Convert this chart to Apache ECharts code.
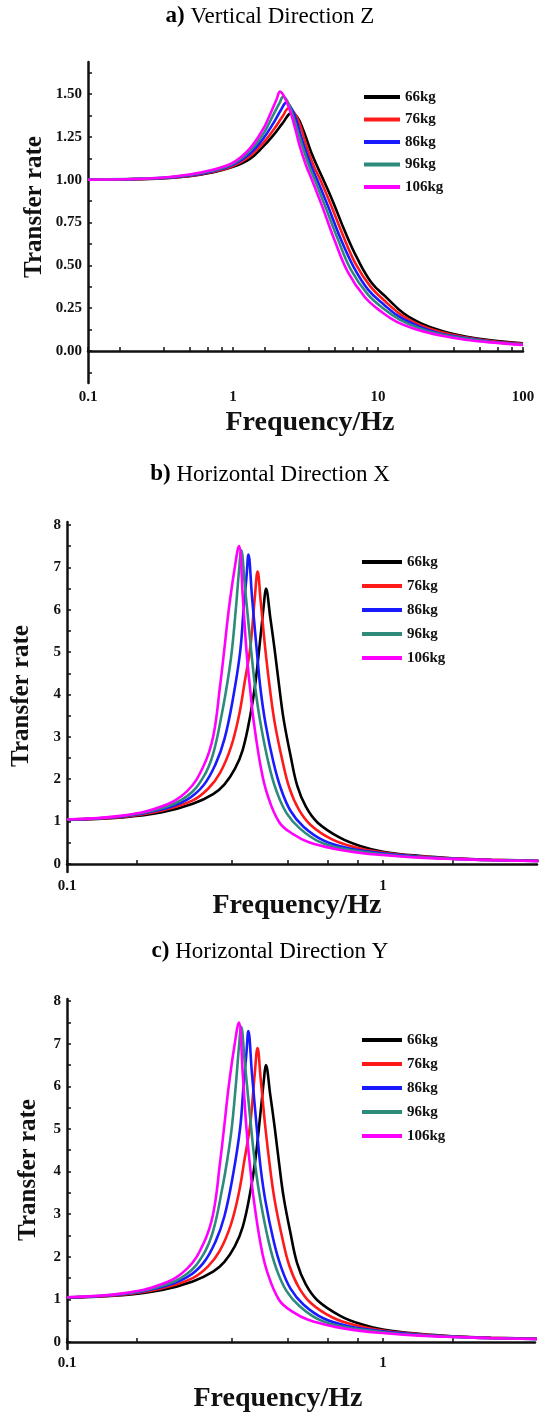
<!DOCTYPE html>
<html>
<head>
<meta charset="utf-8">
<title>Transfer rate vs frequency</title>
<script src="https://cdn.jsdelivr.net/npm/echarts@6/dist/echarts.min.js"></script>
<style>
  html, body { margin: 0; padding: 0; background: #fff; }
  #chart { width: 540px; height: 1414px; }
</style>
</head>
<body>
<div id="chart"></div>
<script>
// Series names (rider mass)
const massNames = ["66kg", "76kg", "86kg", "96kg", "106kg"];

// a) Vertical direction Z — [frequency Hz, transfer rate]
const vz66 = [[0.1,1.0],[0.3,1.006],[0.5,1.02],[0.7,1.04],[1,1.075],[1.3,1.12],[1.6,1.19],[1.9,1.26],[2.2,1.33],[2.54,1.39],[2.8,1.36],[3.05,1.29],[3.3,1.21],[3.5,1.15],[3.8,1.08],[4.2,1.0],[4.9,0.87],[5.9,0.7],[7.2,0.54],[9,0.4],[11.5,0.31],[15,0.22],[20,0.16],[28,0.115],[40,0.085],[60,0.062],[100,0.045]];
const vz76 = [[0.1,1.0],[0.3,1.007],[0.5,1.022],[0.7,1.043],[1,1.08],[1.3,1.135],[1.6,1.21],[1.9,1.29],[2.2,1.37],[2.42,1.417],[2.65,1.39],[2.9,1.32],[3.1,1.24],[3.35,1.15],[3.65,1.07],[4.0,1.0],[4.7,0.86],[5.7,0.68],[7,0.51],[8.8,0.38],[11.2,0.29],[14.5,0.21],[19,0.155],[27,0.11],[40,0.08],[60,0.058],[100,0.042]];
const vz86 = [[0.1,1.0],[0.3,1.008],[0.5,1.025],[0.7,1.047],[1,1.087],[1.3,1.15],[1.6,1.235],[1.9,1.33],[2.15,1.41],[2.33,1.45],[2.55,1.41],[2.75,1.34],[2.95,1.25],[3.2,1.16],[3.5,1.07],[3.85,0.99],[4.5,0.85],[5.5,0.66],[6.8,0.49],[8.6,0.355],[11,0.27],[14,0.2],[19,0.145],[26,0.105],[40,0.076],[60,0.054],[100,0.039]];
const vz96 = [[0.1,1.0],[0.3,1.009],[0.5,1.027],[0.7,1.05],[1,1.093],[1.3,1.165],[1.6,1.26],[1.9,1.38],[2.1,1.45],[2.22,1.485],[2.4,1.45],[2.6,1.37],[2.8,1.28],[3.05,1.18],[3.35,1.08],[3.7,0.99],[4.3,0.85],[5.3,0.65],[6.5,0.475],[8.5,0.33],[11,0.245],[14,0.185],[19,0.135],[26,0.1],[40,0.072],[60,0.052],[100,0.037]];
const vz106 = [[0.1,1.0],[0.3,1.01],[0.5,1.03],[0.7,1.055],[1,1.1],[1.3,1.18],[1.6,1.29],[1.8,1.38],[2.0,1.47],[2.11,1.514],[2.3,1.47],[2.5,1.39],[2.7,1.29],[2.9,1.19],[3.2,1.08],[3.5,1.0],[4.1,0.85],[5.05,0.64],[6.2,0.46],[8.1,0.315],[10.5,0.23],[13.5,0.17],[19,0.122],[27,0.09],[40,0.066],[60,0.05],[100,0.035]];

// b) / c) Horizontal directions X and Y (both panels read the same)
const hz66 = [[0.1,1.04],[0.15,1.1],[0.2,1.22],[0.25,1.42],[0.29,1.65],[0.315,1.88],[0.34,2.25],[0.36,2.7],[0.38,3.5],[0.395,4.3],[0.41,5.4],[0.42,6.15],[0.426,6.5],[0.44,5.8],[0.455,5.0],[0.47,4.15],[0.485,3.4],[0.51,2.55],[0.535,1.85],[0.57,1.35],[0.62,0.98],[0.73,0.62],[0.85,0.42],[1.0,0.29],[1.3,0.19],[1.7,0.13],[2.2,0.1],[3.1,0.075]];
const hz76 = [[0.1,1.045],[0.15,1.11],[0.2,1.26],[0.25,1.5],[0.28,1.78],[0.305,2.15],[0.33,2.75],[0.35,3.5],[0.365,4.3],[0.38,5.1],[0.393,6.3],[0.401,6.9],[0.41,6.2],[0.425,5.0],[0.44,4.05],[0.455,3.3],[0.48,2.45],[0.505,1.8],[0.54,1.3],[0.59,0.92],[0.69,0.58],[0.82,0.39],[1.0,0.27],[1.3,0.18],[1.7,0.125],[2.2,0.095],[3.1,0.072]];
const hz86 = [[0.1,1.045],[0.15,1.12],[0.2,1.29],[0.24,1.52],[0.27,1.85],[0.295,2.35],[0.315,2.95],[0.335,3.9],[0.353,5.0],[0.362,6.0],[0.37,6.8],[0.375,7.3],[0.385,6.3],[0.399,5.0],[0.41,4.1],[0.425,3.3],[0.45,2.4],[0.475,1.78],[0.51,1.25],[0.56,0.88],[0.65,0.55],[0.78,0.37],[1.0,0.25],[1.3,0.17],[1.7,0.12],[2.2,0.092],[3.1,0.07]];
const hz96 = [[0.1,1.05],[0.15,1.13],[0.2,1.32],[0.24,1.6],[0.27,2.05],[0.29,2.6],[0.31,3.6],[0.322,4.3],[0.332,5.0],[0.342,6.0],[0.35,6.9],[0.356,7.4],[0.365,6.6],[0.383,5.0],[0.395,4.1],[0.41,3.3],[0.435,2.35],[0.46,1.72],[0.495,1.2],[0.545,0.84],[0.63,0.52],[0.76,0.35],[1.0,0.23],[1.3,0.16],[1.7,0.117],[2.2,0.09],[3.1,0.07]];
const hz106 = [[0.1,1.05],[0.15,1.14],[0.2,1.36],[0.24,1.72],[0.27,2.3],[0.29,3.0],[0.305,4.2],[0.315,5.1],[0.325,6.0],[0.338,6.9],[0.35,7.5],[0.36,6.3],[0.37,5.0],[0.38,4.1],[0.39,3.35],[0.41,2.3],[0.43,1.65],[0.47,0.98],[0.52,0.7],[0.58,0.52],[0.7,0.36],[0.85,0.26],[1.0,0.21],[1.3,0.15],[1.7,0.115],[2.2,0.09],[3.1,0.07]];

// Axis tick labels and tick marks
const freqLabelsZ = [0.1, 1, 10, 100];
const freqLabelsH = [0.1, 1];
const freqTicksZ = [0.1, 0.1667, 0.3333, 0.5, 0.6667, 0.8333, 1, 1.667, 3.333, 5, 6.667, 8.333, 10, 16.67, 33.33, 50, 66.67, 83.33, 100];
const freqTicksH = [0.1, 0.1667, 0.3333, 0.5, 0.6667, 0.8333, 1, 1.667];
const rateLabelsZ = [0, 0.25, 0.5, 0.75, 1, 1.25, 1.5];
const rateTicksZ = [-0.125, 0, 0.125, 0.25, 0.375, 0.5, 0.625, 0.75, 0.875, 1, 1.125, 1.25, 1.375, 1.5, 1.625];
const rateLabelsH = [0, 1, 2, 3, 4, 5, 6, 7, 8];
const rateTicksH = [0, 0.5, 1, 1.5, 2, 2.5, 3, 3.5, 4, 4.5, 5, 5.5, 6, 6.5, 7, 7.5, 8];

const COLORS = ["#000000", "#ff1a1a", "#1a1aff", "#2e8b7c", "#ff00ff"];
const SERIF = '"Liberation Serif", "DejaVu Serif", serif';

const panels = [
  { data: [vz66, vz76, vz86, vz96, vz106], grid: { left: 88, top: 62, width: 435, height: 321 },
    xMin: 0.1, xMax: 100, yMin: -0.187, yMax: 1.687,
    xLabels: freqLabelsZ, xTicks: freqTicksZ, yLabels: rateLabelsZ, yTicks: rateTicksZ, yDigits: 2,
    title: "a)", titleRest: " Vertical Direction Z", titleTop: 5,
    legend: { left: 364, top: 89, itemWidth: 36, itemGap: 6.5 },
    yName: [35, 207], xName: [310, 423] },
  { data: [hz66, hz76, hz86, hz96, hz106], grid: { left: 67, top: 522, width: 470, height: 350 },
    xMin: 0.1, xMax: 3.07, yMin: -0.19, yMax: 8.07,
    xLabels: freqLabelsH, xTicks: freqTicksH, yLabels: rateLabelsH, yTicks: rateTicksH, yDigits: 0,
    title: "b)", titleRest: " Horizontal Direction X", titleTop: 463,
    legend: { left: 362, top: 554, itemWidth: 40, itemGap: 8 },
    yName: [22, 696], xName: [297, 906] },
  { data: [hz66, hz76, hz86, hz96, hz106], grid: { left: 67, top: 999, width: 468, height: 350 },
    xMin: 0.1, xMax: 3.03, yMin: -0.165, yMax: 8.05,
    xLabels: freqLabelsH, xTicks: freqTicksH, yLabels: rateLabelsH, yTicks: rateTicksH, yDigits: 0,
    title: "c)", titleRest: " Horizontal Direction Y", titleTop: 940,
    legend: { left: 362, top: 1032, itemWidth: 40, itemGap: 8 },
    yName: [29, 1170], xName: [278, 1399] },
];

const tickFont = { fontFamily: SERIF, fontWeight: "bold", fontSize: 15, color: "#111" };

const option = {
  animation: false,
  backgroundColor: "#fff",
  title: [],
  legend: [],
  grid: [],
  xAxis: [],
  yAxis: [],
  series: [],
  graphic: [],
};

panels.forEach((p, i) => {
  option.title.push({
    text: "{b|" + p.title + "}" + p.titleRest,
    left: "center",
    top: p.titleTop,
    padding: 0,
    textStyle: {
      fontFamily: SERIF, fontSize: 23, fontWeight: "normal", color: "#000",
      rich: { b: { fontFamily: SERIF, fontSize: 23, fontWeight: "bold", color: "#000" } },
    },
  });

  option.grid.push(p.grid);

  option.xAxis.push({
    type: "log",
    logBase: 10,
    gridIndex: i,
    min: p.xMin,
    max: p.xMax,
    splitLine: { show: false },
    axisLine: { lineStyle: { color: "#111", width: 2.5 } },
    axisTick: { inside: true, length: 4, customValues: p.xTicks, lineStyle: { color: "#111", width: 1.5 } },
    axisLabel: { customValues: p.xLabels, margin: 7, formatter: (v) => String(+v.toPrecision(3)), ...tickFont },
  });

  option.yAxis.push({
    type: "value",
    gridIndex: i,
    min: p.yMin,
    max: p.yMax,
    splitLine: { show: false },
    axisLine: { show: true, lineStyle: { color: "#111", width: 2.5 } },
    axisTick: { show: true, inside: true, length: 4, customValues: p.yTicks, lineStyle: { color: "#111", width: 1.5 } },
    axisLabel: { customValues: p.yLabels, margin: 6, formatter: (v) => v.toFixed(p.yDigits), ...tickFont },
  });

  p.data.forEach((d, k) => {
    option.series.push({
      name: massNames[k],
      type: "line",
      xAxisIndex: i,
      yAxisIndex: i,
      data: d,
      showSymbol: false,
      symbol: "none",
      smooth: 0.4,
      color: COLORS[k],
      lineStyle: { width: 2.6, color: COLORS[k] },
      z: 2 + k,
    });
  });

  option.legend.push({
    orient: "vertical",
    left: p.legend.left,
    top: p.legend.top,
    itemWidth: p.legend.itemWidth,
    itemHeight: 4,
    itemGap: p.legend.itemGap,
    icon: "rect",
    selectedMode: false,
    padding: 0,
    data: massNames,
    textStyle: { fontFamily: SERIF, fontWeight: "bold", fontSize: 15, lineHeight: 16, color: "#111" },
  });

  option.graphic.push({
    type: "text",
    x: p.yName[0],
    y: p.yName[1],
    rotation: Math.PI / 2,
    style: {
      text: "Transfer rate",
      font: "bold 25px " + SERIF,
      fill: "#111",
      align: "center",
      verticalAlign: "middle",
    },
  });
  option.graphic.push({
    type: "text",
    x: p.xName[0],
    y: p.xName[1],
    style: {
      text: "Frequency/Hz",
      font: "bold 28px " + SERIF,
      fill: "#111",
      align: "center",
      verticalAlign: "middle",
    },
  });
});

const chart = echarts.init(document.getElementById("chart"), null, { renderer: "canvas" });
chart.setOption(option);
window.addEventListener("resize", () => chart.resize());
</script>
</body>
</html>
